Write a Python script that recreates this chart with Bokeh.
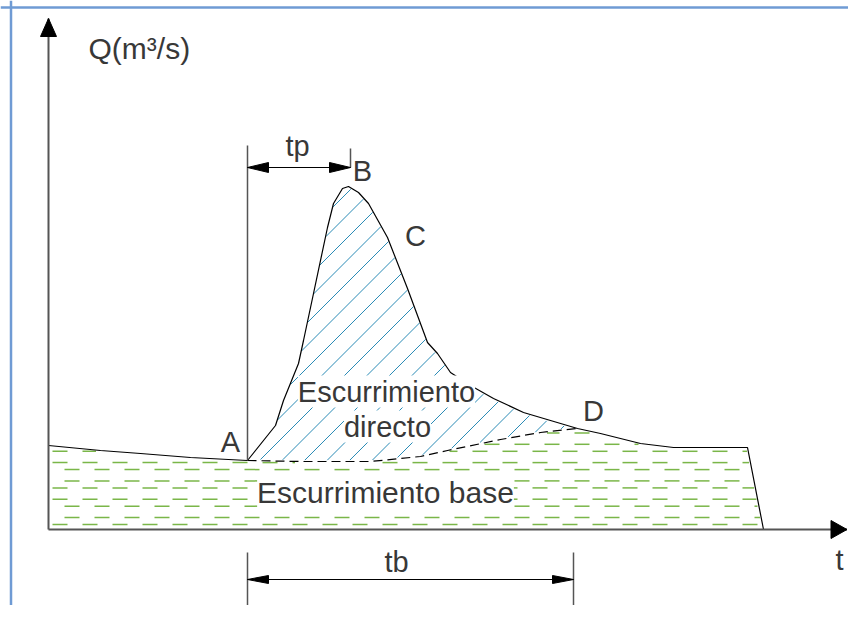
import numpy as np
from bokeh.plotting import figure
from bokeh.models import Range1d, Label, Span
from bokeh.embed import file_html
from bokeh.resources import INLINE

# ---- data (t, Q in arbitrary units) ----
hydro_t = [0.0, 5.2, 9.2, 14.2, 19.9, 22.7, 23.5, 25.0, 25.5, 26.5, 27.9, 28.5, 29.4, 30.0,
           31.0, 32.0, 33.9, 35.9, 37.9, 38.9, 40.2, 42.2, 44.5, 47.5, 50.2, 52.9, 55.2,
           59.2, 62.5, 69.9, 71.5]
hydro_q = [8.4, 7.9, 7.6, 7.2, 6.9, 10.4, 12.9, 16.6, 18.9, 23.6, 30.2, 32.6, 34.1, 34.3,
           33.7, 32.6, 29.2, 24.1, 18.7, 17.6, 15.7, 14.4, 13.1, 11.7, 10.9, 10.1, 9.6,
           8.6, 8.2, 8.2, 0.0]
i_A = 4     # point A index
i_D = 25    # point D index
sep_t = [19.9, 25.2, 32.2, 37.2, 39.9, 45.2, 49.2, 52.9]
sep_q = [6.9, 6.8, 6.8, 7.3, 7.9, 9.0, 9.7, 10.1]

t_A = 19.9
t_tp_end = 30.2
t_tb_end = 52.5

labels_txt = ["A", "B", "C", "D"]
labels_t = [18.2, 31.4, 36.7, 54.5]
labels_q = [8.8, 35.9, 29.4, 11.9]

# ---- geometry helpers (1 data unit = 10 px) ----
PX = 0.1
X0, X1 = -4.8, 80.0
Y0, Y1 = -7.6, 52.9

p = figure(width=848, height=605, x_range=Range1d(X0, X1), y_range=Range1d(Y0, Y1),
           output_backend="svg", toolbar_location=None, x_axis_type=None, y_axis_type=None,
           min_border=0)
p.grid.visible = False
p.outline_line_color = None
p.background_fill_color = "white"
p.border_fill_color = "white"

FONT = "Liberation Sans"
TXT = "#383838"
AX = "#555555"

# frame lines (blue)
p.add_layout(Span(location=X0 + 10.5 * PX, dimension="height", line_color="#6f9bd4", line_width=2.5))
p.add_layout(Span(location=Y1 - 7.0 * PX, dimension="width", line_color="#6f9bd4", line_width=2.5))


def runs_of(mask):
    idx = np.where(mask)[0]
    if len(idx) == 0:
        return []
    return [r for r in np.split(idx, np.where(np.diff(idx) > 1)[0] + 1) if len(r) > 2]


# ---- baseflow area: rows of green dashes clipped to the area ----
top_t = np.array(hydro_t[:i_A + 1] + sep_t[1:] + hydro_t[i_D + 1:-1])
top_q = np.array(hydro_q[:i_A + 1] + sep_q[1:] + hydro_q[i_D + 1:-1])
tr0, qr0, tr1 = hydro_t[-2], hydro_q[-2], hydro_t[-1]

row_gap, pair_gap, dash, period = 18.3 * PX, 7 * PX, 15 * PX, 30 * PX
gx0, gy0, gx1, gy1 = [], [], [], []
k = 0
while True:
    row_q = 5 * PX + k * row_gap
    if row_q > max(top_q):
        break
    offs = (4 * PX, 16 * PX) if k % 2 == 0 else (16 * PX, 4 * PX)
    for q, off in ((row_q, offs[0]), (row_q + pair_gap, offs[1])):
        t_right = tr1 - (tr1 - tr0) * q / qr0
        a = off
        while a < t_right:
            s = np.arange(a, a + dash + 1e-9, 0.05)
            inside = (s > 0.1) & (s < t_right - 0.1) & (np.interp(s, top_t, top_q) > q + 0.12)
            for r in runs_of(inside):
                gx0.append(s[r[0]]); gx1.append(s[r[-1]])
                gy0.append(q); gy1.append(q)
            a += period
    k += 1
p.segment(gx0, gy0, gx1, gy1, line_color="#7ab648", line_width=1.5)

# ---- direct runoff area: 45-degree blue hatch clipped to the area ----
up_t = np.array(hydro_t[i_A:i_D + 1])
up_q = np.array(hydro_q[i_A:i_D + 1])
lo_t = np.array(sep_t)
lo_q = np.array(sep_q)
spacing = 22.5 * PX
bx0, by0, bx1, by1 = [], [], [], []
c = 14.2 - 20 * spacing
s = np.arange(up_t[0], up_t[-1], 0.02)
upper = np.interp(s, up_t, up_q)
lower = np.interp(s, lo_t, lo_q)
while c < up_t[-1] - lo_q.min():
    q = s - c
    inside = (q > lower + 0.12) & (q < upper - 0.12)
    for r in runs_of(inside):
        bx0.append(s[r[0]]); by0.append(q[r[0]])
        bx1.append(s[r[-1]]); by1.append(q[r[-1]])
    c += spacing
p.segment(bx0, by0, bx1, by1, line_color="#2a8bb6", line_width=1)

# hydrograph & separation line
p.line(hydro_t, hydro_q, line_color="black", line_width=1.2)
p.line(sep_t, sep_q, line_color="black", line_width=1.2, line_dash="9 5")

# axes
y_tip = Y1 - 18 * PX
x_tip = X1 - 1.5 * PX
p.line([0, 0], [0, y_tip], line_color=AX, line_width=2)
p.line([0, x_tip], [0, 0], line_color=AX, line_width=2)
p.patch([0, -8 * PX, 8 * PX], [y_tip, y_tip - 18 * PX, y_tip - 18 * PX], color="black")
p.patch([x_tip, x_tip - 16 * PX, x_tip - 16 * PX], [0, 9 * PX, -9 * PX], color="black")

# tp dimension
q_tp = 36.2
p.line([t_A, t_A], [hydro_q[i_A], 38.4], line_color=AX, line_width=1.5)
p.line([t_tp_end, t_tp_end], [q_tp, q_tp + 1.9], line_color=AX, line_width=1.5)
p.line([t_A, t_tp_end], [q_tp, q_tp], line_color="black", line_width=1.2)
hl, hw = 21 * PX, 5 * PX
p.patch([t_A, t_A + hl, t_A + hl], [q_tp, q_tp + hw, q_tp - hw], color="black")
p.patch([t_tp_end, t_tp_end - hl, t_tp_end - hl], [q_tp, q_tp + hw, q_tp - hw], color="black")

# tb dimension
q_tb = -5.0
for tt in (t_A, t_tb_end):
    p.line([tt, tt], [-2.3, -7.8], line_color=AX, line_width=1.5)
p.line([t_A, t_tb_end], [q_tb, q_tb], line_color="black", line_width=1.2)
hw2 = 4 * PX
p.patch([t_A, t_A + hl, t_A + hl], [q_tb, q_tb + hw2, q_tb - hw2], color="black")
p.patch([t_tb_end, t_tb_end - hl, t_tb_end - hl], [q_tb, q_tb + hw2, q_tb - hw2], color="black")


def lab(x, y, text, size="29px", align="center", bg=False):
    kw = dict(x=x, y=y, text=text, text_font=FONT, text_font_size=size, text_color=TXT,
              text_align=align, text_baseline="middle")
    if bg:
        kw.update(background_fill_color="white")
    p.add_layout(Label(**kw))


lab(4.0, 48.1, "Q(m³/s)", size="30px", align="left")
lab(24.9, 38.4, "tp")
for s_, x, y in zip(labels_txt, labels_t, labels_q):
    lab(x, y, s_)
lab(33.8, 13.8, "Escurrimiento", bg=True)
lab(33.9, 10.3, "directo", bg=True)
lab(33.7, 3.7, "Escurrimiento base", size="30px", bg=True)
lab(79.1, -3.0, "t")
lab(34.8, -3.2, "tb")

open("out.html", "w").write(file_html(p, INLINE))
